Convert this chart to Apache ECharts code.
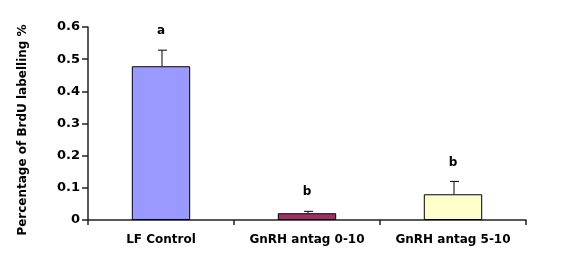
<!DOCTYPE html>
<html>
<head>
<meta charset="utf-8">
<script src="https://cdn.jsdelivr.net/npm/echarts@6/dist/echarts.min.js"></script>
<style>html,body{margin:0;padding:0;background:#fff;}#c{width:586px;height:270px;}</style>
</head>
<body>
<div id="c"></div>
<script>
const categories = ['LF Control', 'GnRH antag 0-10', 'GnRH antag 5-10'];
const means = [0.478, 0.021, 0.080];
const errors = [0.050, 0.006, 0.040];
const letters = ['a', 'b', 'b'];
const colors = ['#9999FF', '#993366', '#FFFFCC'];
const yTicks = [0, 0.1, 0.2, 0.3, 0.4, 0.5, 0.6];

const chart = echarts.init(document.getElementById('c'), null, {renderer: 'canvas'});
const font = 'DejaVu Sans';
chart.setOption({
  animation: false,
  backgroundColor: '#fff',
  grid: {left: 88, right: 60, top: 27, bottom: 50},
  xAxis: {
    type: 'category',
    data: categories,
    axisLine: {lineStyle: {color: '#222', width: 1.5}},
    axisTick: {show: true, length: 5, lineStyle: {color: '#222', width: 1.5}},
    axisLabel: {interval: 0, color: '#000', fontFamily: font, fontWeight: 'bold', fontSize: 12, margin: 14}
  },
  yAxis: {
    type: 'value',
    min: 0, max: 0.6, interval: 0.1,
    name: 'Percentage of BrdU labelling %',
    nameLocation: 'middle',
    nameGap: 59,
    nameTextStyle: {color: '#000', fontFamily: font, fontWeight: 'bold', fontSize: 12, padding: [0, 0, 0, -13]},
    axisLine: {show: true, lineStyle: {color: '#222', width: 1.5}},
    axisTick: {show: true, length: 6, lineStyle: {color: '#222', width: 1.5}},
    splitLine: {show: false},
    axisLabel: {color: '#000', fontFamily: font, fontWeight: 'bold', fontSize: 13, margin: 8,
      formatter: v => { const t = yTicks.find(x => Math.abs(x - v) < 1e-9); return t === undefined ? '' : String(t); }}
  },
  series: [
    {
      type: 'bar',
      barWidth: '40%',
      data: means.map((v, i) => ({value: v, itemStyle: {color: colors[i], borderColor: '#000', borderWidth: 1}}))
    },
    {
      type: 'custom',
      data: means.map((v, i) => [i, v, errors[i]]),
      renderItem: function (params, api) {
        const i = api.value(0), m = api.value(1), e = api.value(2);
        const base = api.coord([i, m]);
        const top = api.coord([i, m + e]);
        const x = base[0] + 1;
        return {
          type: 'group',
          children: [
            {type: 'line', shape: {x1: x, y1: base[1], x2: x, y2: top[1]}, style: {stroke: '#000', lineWidth: 1}},
            {type: 'line', shape: {x1: x - 4, y1: top[1], x2: x + 5, y2: top[1]}, style: {stroke: '#000', lineWidth: 1}},
            {type: 'text', style: {text: letters[params.dataIndex], x: x - 1, y: top[1] - 19, align: 'center', verticalAlign: 'middle',
              fill: '#000', font: 'bold 12px "DejaVu Sans"'}}
          ]
        };
      },
      z: 5
    }
  ]
});
</script>
</body>
</html>
